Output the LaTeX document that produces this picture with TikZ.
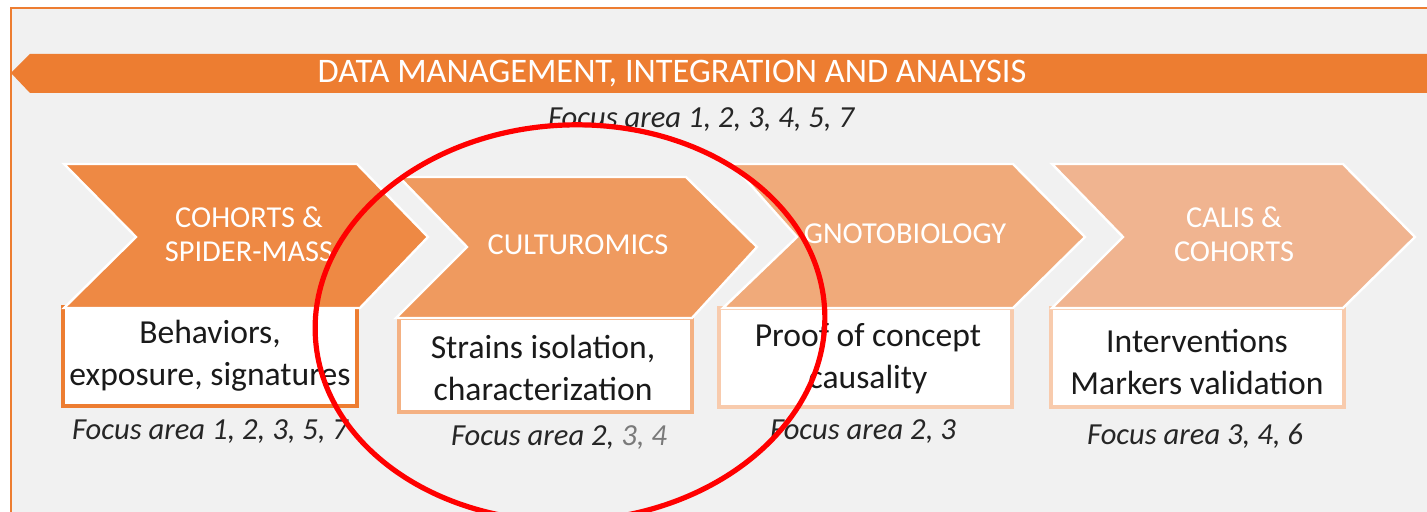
\documentclass[tikz,border=0pt]{standalone}
\usepackage{fontspec}
\setmainfont{Carlito}
\definecolor{bgc}{HTML}{F1F1F1}
\definecolor{orng}{HTML}{ED7D31}
\definecolor{ch1}{HTML}{EE8944}
\definecolor{ch2}{HTML}{EF9A5F}
\definecolor{ch3}{HTML}{F0AA7A}
\definecolor{ch4}{HTML}{F0B490}
\definecolor{bx2}{HTML}{F4B183}
\definecolor{bx3}{HTML}{F8CBAD}
\definecolor{txt}{HTML}{1A1A1A}
\definecolor{foc}{HTML}{262626}
\definecolor{grayfoc}{HTML}{7A7A7A}
\definecolor{redc}{HTML}{FF0000}
\tikzset{
  chev/.style={draw=white, line width=1.2pt, line join=miter},
  chevlabel/.style={text=white, font=\fontsize{15.2}{17}\selectfont, align=center, inner sep=0pt},
  boxtxt/.style={text=txt, font=\fontsize{16.8}{21}\selectfont, align=center, inner sep=0pt},
  focus/.style={text=foc, font=\fontsize{15.3}{17}\selectfont\itshape, inner sep=0pt},
  whitebox/.style={fill=white, line width=2pt},
}
\begin{document}
\begin{tikzpicture}[x=0.5pt,y=-0.5pt]
\useasboundingbox (0,0) rectangle (1427,512);
\clip (0,0) rectangle (1427,512);
\fill[white] (0,0) rectangle (1427,512);
% frame
\draw[fill=bgc, draw=orng, line width=0.8pt] (11,8) rectangle (1450,540);
% banner
\fill[orng] (11,73) -- (30,54) -- (1440,54) -- (1440,93) -- (30,93) -- cycle;
\node[text=white, font=\fontsize{17.2}{20}\selectfont, inner sep=0pt] (banner) at (672,74) {DATA MANAGEMENT, INTEGRATION AND ANALYSIS};
\node[focus] (ftop) at (701,120) {Focus area 1, 2, 3, 4, 5, 7};

% boxes (drawn first, chevrons over their top edge)
\draw[whitebox, draw=orng] (63,307) rectangle (357,406);
\draw[whitebox, draw=bx2] (399,318) rectangle (692,412);
\draw[whitebox, draw=bx3] (719,308) rectangle (1012,407);
\draw[whitebox, draw=bx3] (1051,308) rectangle (1344,407);

% chevrons
\draw[chev, fill=ch1] (64,164) -- (357,164) -- (428,237) -- (360,308) -- (64,308) -- (136,237) -- cycle;
\draw[chev, fill=ch3] (732,164) -- (1013,164) -- (1085,237) -- (1013,308) -- (723,308) -- (797,237) -- cycle;
\draw[chev, fill=ch4] (1052,164) -- (1343,164) -- (1415,237) -- (1343,308) -- (1052,308) -- (1123,237) -- cycle;
\draw[chev, fill=ch2] (399,177) -- (686,177) -- (757,247) -- (692,318) -- (396,318) -- (467,247) -- cycle;

\node[chevlabel] (c1) at (249,234) {COHORTS \&\\SPIDER-MASS};
\node[chevlabel] (c2) at (578,245) {CULTUROMICS};
\node[chevlabel] (c3) at (905,234) {GNOTOBIOLOGY};
\node[chevlabel] (c4) at (1234,234) {CALIS \&\\COHORTS};

\node[boxtxt] (b1) at (210,356) {Behaviors,\\exposure, signatures};
\node[boxtxt] (b2) at (543,368) {Strains isolation,\\characterization};
\node[boxtxt] (b3) at (868,359) {Proof of concept\\causality};
\node[boxtxt] (b4) at (1197,362) {Interventions\\Markers validation};

\node[focus] (f1) at (210,432) {Focus area 1, 2, 3, 5, 7};
\node[focus] (f2) at (559,438) {Focus area 2, {\color{grayfoc}3, 4}};
\node[focus] (f3) at (863,432) {Focus area 2, 3};
\node[focus] (f4) at (1195,436) {Focus area 3, 4, 6};

% red ellipse
\draw[redc, line width=2.6pt] (570,323) ellipse[x radius=255, y radius=198, rotate=3];
\end{tikzpicture}
\end{document}
